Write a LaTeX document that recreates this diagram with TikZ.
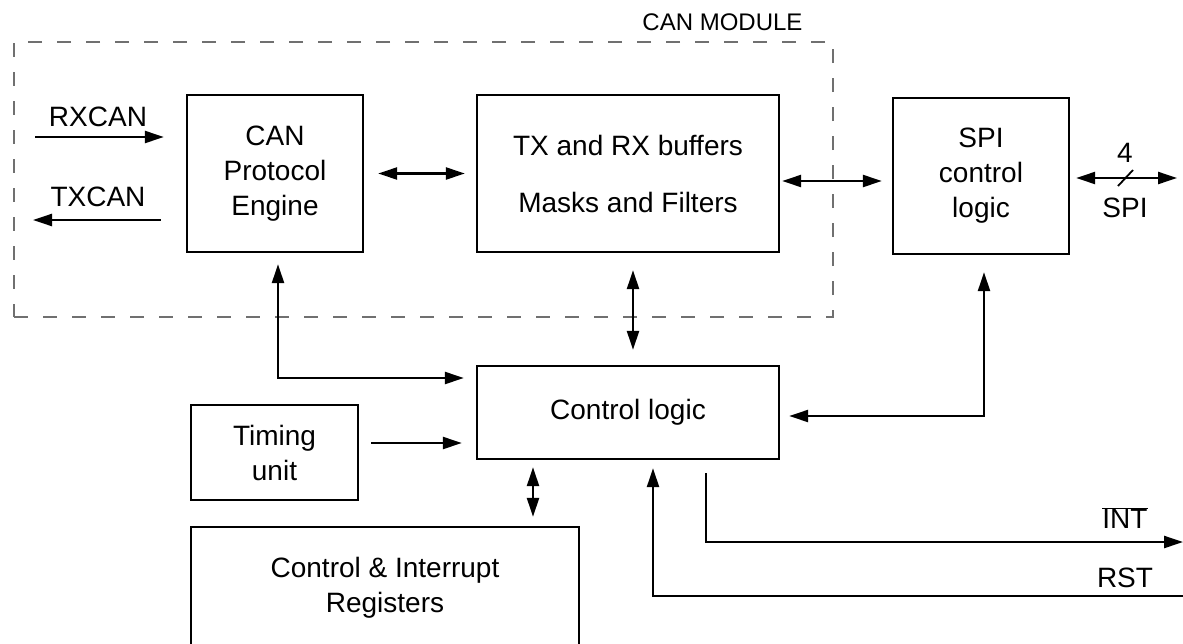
\documentclass[tikz,border=0pt]{standalone}
\usepackage{fontspec}
\setmainfont{Liberation Sans}
\usetikzlibrary{arrows.meta,calc}
\definecolor{modgray}{RGB}{112,112,112}
\begin{document}
\begin{tikzpicture}[x=1pt,y=-1pt,
  box/.style={draw,line width=2.4pt,align=center,inner sep=0pt,font=\fontsize{28}{35}\selectfont},
  modbox/.style={draw=modgray,line width=1.7pt,dash pattern=on 14pt off 15pt,inner sep=0pt},
  lbl/.style={inner sep=0pt,align=center,font=\fontsize{28}{35}\selectfont},
  tip/.tip={Triangle[length=19pt,width=12pt]},
  conn/.style={line width=2.4pt,-tip},
  dbl/.style={line width=2.4pt,tip-tip},
]
\useasboundingbox (0,0) rectangle (1183,643);
\clip (0,0) rectangle (1183,643);

% CAN module frame
\node[modbox,minimum width=819pt,minimum height=275pt] (canmod) at (423.5,179.5) {};
\node[lbl,font=\fontsize{24}{28}\selectfont] (canmodl) at (722.5,22) {CAN MODULE};

% blocks
\node[box,minimum width=176pt,minimum height=157pt] (cpe) at (275,173.5) {CAN\\Protocol\\Engine};
\node[box,minimum width=302pt,minimum height=157pt] (txrx) at (628,173.5) {TX and RX buffers\\[22pt]Masks and Filters};
\node[box,minimum width=176pt,minimum height=156pt] (spi) at (981,176) {SPI\\control\\logic};
\node[box,minimum width=302pt,minimum height=93pt] (cl) at (628,412.5) {Control logic};
\node[box,minimum width=167pt,minimum height=95pt] (tim) at (274.5,452.5) {Timing\\unit};
\node[box,minimum width=388pt,minimum height=121pt] (cir) at (385,587.5) {Control \& Interrupt\\Registers};

% free ends
\coordinate (rxin) at (35,137);
\coordinate (txout) at (33,220);
\coordinate (spiout) at (1177,178);
\coordinate (intout) at (1183,542);
\coordinate (rstin) at (1183,596);

% labels
\node[lbl] (rxl) at (98,117) {RXCAN};
\node[lbl] (txl) at (98,197) {TXCAN};
\node[lbl] (fourl) at (1125,153) {4};
\node[lbl] (spil) at (1125,208) {SPI};
\node[lbl] (intl) at (1125,518) {$\overline{\mbox{INT}}$};
\node[lbl] (rstl) at (1125,578) {RST};

% connectors
\draw[conn,shorten >=22pt] (rxin) -- (cpe.west |- rxin);
\draw[conn] ($(cpe.west)+(-25,46.5)$) -- (txout);
\draw[dbl,shorten <=14pt,shorten >=11pt] (cpe) -- (txrx);
\draw[dbl] ($(txrx.east)+(2,7.5)$) -- ($(spi.west)+(-10,5)$);
\draw[dbl] ($(spi.east)+(6,2)$) -- (spiout);
\draw[line width=1.8pt] ($(spiout)+(-59,8)$) -- ($(spiout)+(-44,-8)$);
\draw[dbl] ($(cpe.south)+(3,11)$) |- ($(cl.west)+(-12,-34.5)$);
\draw[dbl] ($(txrx.south)+(5,17)$) -- ($(cl.north)+(5,-15)$);
\draw[conn] ($(tim.east)+(12,-9.5)$) -- ($(cl.west)+(-14,30.5)$);
\draw[dbl] ($(cl.south)+(-95,7)$) -- ($(cir.north)+(148,-9)$);
\draw[dbl] ($(spi.south)+(3,17)$) |- ($(cl.east)+(9,3.5)$);
\draw[conn] ($(cl.south)+(78,13)$) |- (intout);
\draw[conn] (rstin) -| ($(cl.south)+(25,8)$);
\end{tikzpicture}
\end{document}
